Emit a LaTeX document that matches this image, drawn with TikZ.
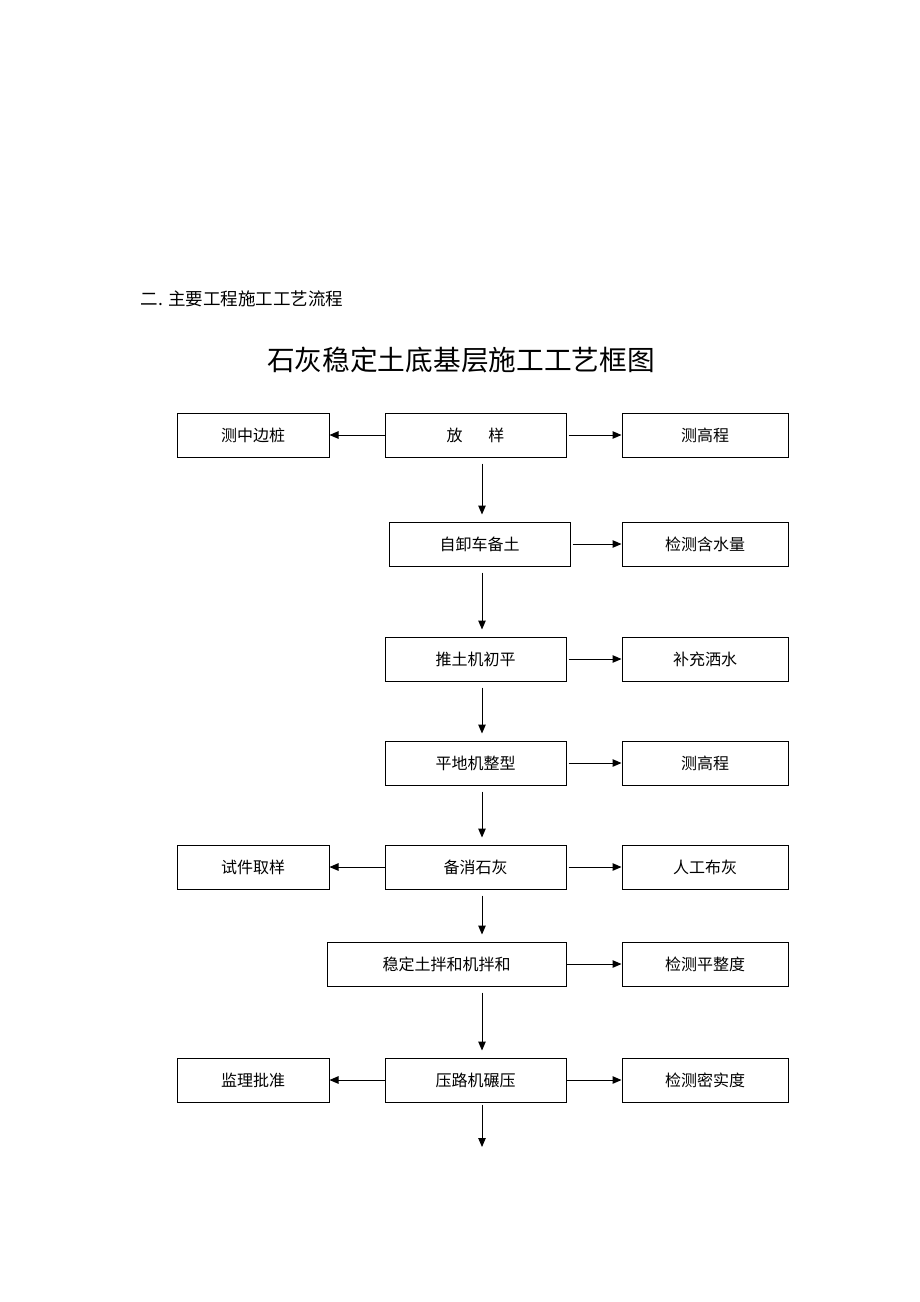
\documentclass[tikz,border=0pt]{standalone}
\usepackage{fontspec}
\newfontfamily\cjk{Noto Sans CJK SC}
\usetikzlibrary{arrows.meta}

\tikzset{
  box/.style={draw, line width=1pt, inner sep=0pt, minimum height=44pt,
    font=\cjk\fontsize{16}{19}\selectfont},
  lbox/.style={box, minimum width=152pt},
  cbox/.style={box, minimum width=181pt},
  rbox/.style={box, minimum width=166pt},
  flow/.style={-{Triangle[length=9pt,width=7.5pt]}, line width=1pt},
  down/.style={flow, shorten <=6pt, shorten >=7pt}
}

\begin{document}
\begin{tikzpicture}[x=1pt,y=-1pt]
      \useasboundingbox (0,0) rectangle (920,1302);

      % headings
      \node[anchor=west, font=\cjk\fontsize{17.5}{20}\selectfont] at (137,299) (sec) {二.\hspace{0.3em}主要工程施工工艺流程};
      \node[font=\cjk\fontsize{27.7}{32}\selectfont] at (461,360) (title) {石灰稳定土底基层施工工艺框图};

      % line of the main column
      \coordinate (axis) at (482,0);

      % 'fangyang'
      \node[cbox] at (475.5,435) (fy) {放\hspace{1.6em}样};
      \node[lbox] at (253,435) (czbz) {测中边桩};
      \node[rbox] at (705,435) (cgc1) {测高程};
      \draw[flow] (fy) -- (czbz);
      \draw[flow, shorten <=2pt] (fy) -- (cgc1);

      % 'zixieche'
      \node[cbox] at (479.5,544) (zx) {自卸车备土};
      \node[rbox] at (705,544) (hsl) {检测含水量};
      \draw[down] (fy.south -| axis) -- (zx.north -| axis);
      \draw[flow, shorten <=2pt] (zx) -- (hsl);

      % 'tuitu'
      \node[cbox] at (475.5,659) (tt) {推土机初平};
      \node[rbox] at (705,659) (bcs) {补充洒水};
      \draw[down] (zx.south -| axis) -- (tt.north -| axis);
      \draw[flow, shorten <=2pt] (tt) -- (bcs);

      % 'pingdi'
      \node[cbox] at (475.5,763) (pd) {平地机整型};
      \node[rbox] at (705,763) (cgc2) {测高程};
      \draw[down] (tt.south -| axis) -- (pd.north -| axis);
      \draw[flow, shorten <=2pt] (pd) -- (cgc2);

      % 'shihui'
      \node[cbox] at (475.5,867) (sh) {备消石灰};
      \node[lbox] at (253,867) (sj) {试件取样};
      \node[rbox] at (705,867) (rg) {人工布灰};
      \draw[down] (pd.south -| axis) -- (sh.north -| axis);
      \draw[flow] (sh) -- (sj);
      \draw[flow, shorten <=2pt] (sh) -- (rg);

      % 'banhe'
      \node[box, minimum width=239pt] at (446.5,964) (bh) {稳定土拌和机拌和};
      \node[rbox] at (705,964) (pzd) {检测平整度};
      \draw[down] (sh.south -| axis) -- (bh.north -| axis);
      \draw[flow] (bh) -- (pzd);

      % 'nianya'
      \node[cbox] at (475.5,1080) (ny) {压路机碾压};
      \node[lbox] at (253,1080) (jl) {监理批准};
      \node[rbox] at (705,1080) (msd) {检测密实度};
      \draw[down] (bh.south -| axis) -- (ny.north -| axis);
      \draw[flow] (ny) -- (jl);
      \draw[flow] (ny) -- (msd);

      \coordinate (end) at (482,1147);
      \draw[flow, shorten <=2pt] (ny.south -| axis) -- (end);
    \end{tikzpicture}
\end{document}
